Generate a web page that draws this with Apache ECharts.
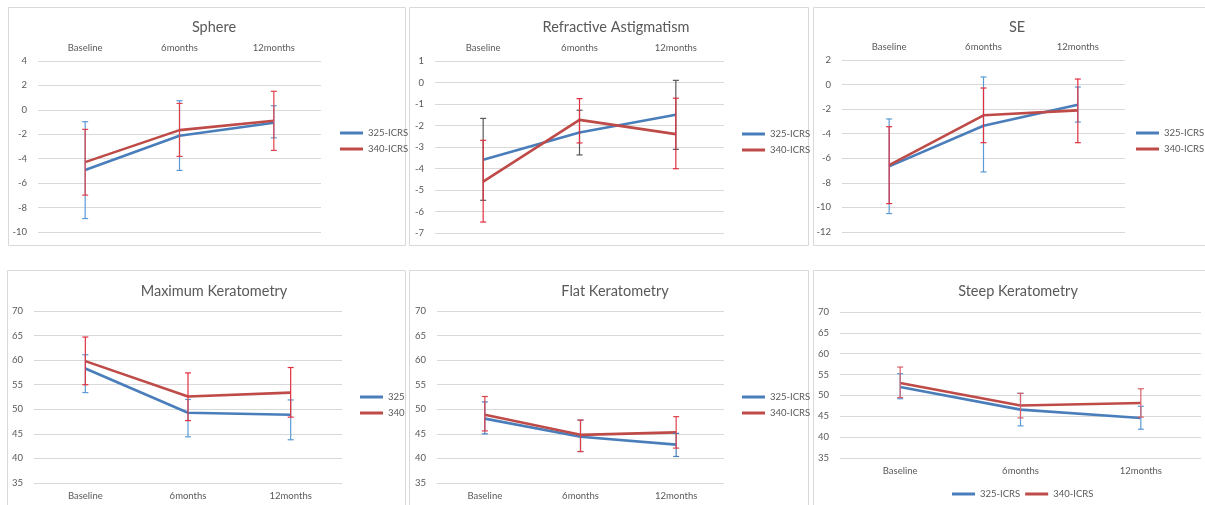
<!DOCTYPE html>
<html>
<head>
<meta charset="utf-8">
<script src="https://cdn.jsdelivr.net/npm/echarts@6/dist/echarts.min.js"></script>
<style>
html,body{margin:0;padding:0;background:#fff;}
#chart{width:1205px;height:505px;}
</style>
</head>
<body>
<div id="chart"></div>
<script>
// ---------- DATA ----------
const categories = ['Baseline', '6months', '12months'];

// Sphere
const sphere325 = [-4.93, -2.12, -1.05];
const sphere325Hi = [-0.97, 0.75, 0.34];
const sphere325Lo = [-8.9, -4.96, -2.29];
const sphere340 = [-4.28, -1.66, -0.89];
const sphere340Hi = [-1.6, 0.53, 1.52];
const sphere340Lo = [-6.98, -3.81, -3.32];

// Refractive Astigmatism
const astig325 = [-3.59, -2.33, -1.5];
const astig325Hi = [-1.67, -1.29, 0.1];
const astig325Lo = [-5.48, -3.37, -3.11];
const astig340 = [-4.61, -1.74, -2.4];
const astig340Hi = [-2.69, -0.75, -0.73];
const astig340Lo = [-6.49, -2.81, -4.01];

// SE
const se325 = [-6.66, -3.35, -1.64];
const se325Hi = [-2.8, 0.62, -0.2];
const se325Lo = [-10.5, -7.11, -3.05];
const se340 = [-6.55, -2.5, -2.1];
const se340Hi = [-3.43, -0.28, 0.45];
const se340Lo = [-9.69, -4.73, -4.73];

// Maximum Keratometry
const maxk325 = [58.3, 49.3, 48.9];
const maxk325Hi = [61.1, 52.0, 51.9];
const maxk325Lo = [53.4, 44.4, 43.8];
const maxk340 = [59.8, 52.6, 53.4];
const maxk340Hi = [64.7, 57.4, 58.5];
const maxk340Lo = [55.0, 47.7, 48.4];

// Flat Keratometry
const flatk325 = [48.1, 44.4, 42.8];
const flatk325Hi = [51.5, 47.8, 45.1];
const flatk325Lo = [45.0, 41.4, 40.4];
const flatk340 = [48.9, 44.8, 45.3];
const flatk340Hi = [52.6, 47.8, 48.5];
const flatk340Lo = [45.6, 41.4, 42.1];

// Steep Keratometry
const steepk325 = [52.0, 46.6, 44.6];
const steepk325Hi = [55.2, 50.5, 47.4];
const steepk325Lo = [49.2, 42.7, 41.9];
const steepk340 = [53.0, 47.6, 48.2];
const steepk340Hi = [56.8, 50.5, 51.6];
const steepk340Lo = [49.5, 44.6, 44.8];

// ---------- LAYOUT ----------
const FONT = 'Lato, "Open Sans", sans-serif';
const TXT = '#595959';
const BLUE = '#4a7ebb';
const RED = '#be4b48';

const panels = [
  { title: 'Sphere', tx: 209, ty: 15, frame: [8, 7, 397, 238],
    grid: { left: 38, top: 61, width: 283, height: 171 }, xpos: 'top',
    ymin: -10, ymax: 4, yint: 2,
    names: ['325-ICRS', '340-ICRS'],
    s: [[sphere325, sphere325Lo, sphere325Hi], [sphere340, sphere340Lo, sphere340Hi]],
    errColors: ['#5b9bd5', '#e0404a'],
    legend: { left: 335, top: 123, orient: 'vertical' } },
  { title: 'Refractive Astigmatism', tx: 611, ty: 15, frame: [409, 7, 399, 238],
    grid: { left: 435, top: 61, width: 289, height: 172 }, xpos: 'top',
    ymin: -7, ymax: 1, yint: 1,
    names: ['325-ICRS', '340-ICRS'],
    s: [[astig325, astig325Lo, astig325Hi], [astig340, astig340Lo, astig340Hi]],
    errColors: ['#595959', '#e0303f'],
    legend: { left: 737, top: 124, orient: 'vertical' } },
  { title: 'SE', tx: 1012, ty: 15, frame: [813, 7, 400, 238],
    grid: { left: 842, top: 60, width: 283, height: 172 }, xpos: 'top',
    ymin: -12, ymax: 2, yint: 2,
    names: ['325-ICRS', '340-ICRS'],
    s: [[se325, se325Lo, se325Hi], [se340, se340Lo, se340Hi]],
    errColors: ['#5b9bd5', '#e0303f'],
    legend: { left: 1131, top: 123, orient: 'vertical' } },
  { title: 'Maximum Keratometry', tx: 209, ty: 279, frame: [7, 270, 398, 245],
    grid: { left: 34, top: 311, width: 308, height: 172 }, xpos: 'bottom',
    ymin: 35, ymax: 70, yint: 5,
    names: ['325', '340'],
    s: [[maxk325, maxk325Lo, maxk325Hi], [maxk340, maxk340Lo, maxk340Hi]],
    errColors: ['#5b9bd5', '#e0303f'],
    legend: { left: 355, top: 387, orient: 'vertical' } },
  { title: 'Flat Keratometry', tx: 610, ty: 279, frame: [409, 270, 399, 245],
    grid: { left: 437, top: 311, width: 287, height: 172 }, xpos: 'bottom',
    ymin: 35, ymax: 70, yint: 5,
    names: ['325-ICRS', '340-ICRS'],
    s: [[flatk325, flatk325Lo, flatk325Hi], [flatk340, flatk340Lo, flatk340Hi]],
    errColors: ['#4a7ebb', '#e0404a'],
    legend: { left: 737, top: 387, orient: 'vertical' } },
  { title: 'Steep Keratometry', tx: 1013, ty: 279, frame: [813, 270, 400, 245],
    grid: { left: 840, top: 312, width: 361, height: 146 }, xpos: 'bottom',
    ymin: 35, ymax: 70, yint: 5,
    names: ['325-ICRS', '340-ICRS'],
    s: [[steepk325, steepk325Lo, steepk325Hi], [steepk340, steepk340Lo, steepk340Hi]],
    errColors: ['#5b9bd5', '#d9606a'],
    legend: { left: 947, top: 484, orient: 'horizontal' } }
];

const option = {
  backgroundColor: '#fff',
  animation: false,
  title: [], grid: [], xAxis: [], yAxis: [], series: [], legend: [],
  graphic: []
};

function errRender(color) {
  return function (params, api) {
    const x = api.value(0);
    const lo = api.coord([x, api.value(1)]);
    const hi = api.coord([x, api.value(2)]);
    const hw = 3;
    const st = { stroke: color, lineWidth: 1.2 };
    return {
      type: 'group',
      children: [
        { type: 'line', shape: { x1: hi[0], y1: hi[1], x2: lo[0], y2: lo[1] }, style: st },
        { type: 'line', shape: { x1: hi[0] - hw, y1: hi[1], x2: hi[0] + hw, y2: hi[1] }, style: st },
        { type: 'line', shape: { x1: lo[0] - hw, y1: lo[1], x2: lo[0] + hw, y2: lo[1] }, style: st }
      ]
    };
  };
}

panels.forEach((p, i) => {
  option.graphic.push({
    type: 'rect', silent: true, z: -10,
    shape: { x: p.frame[0] + 0.5, y: p.frame[1] + 0.5, width: p.frame[2], height: p.frame[3] },
    style: { fill: 'none', stroke: '#d9d9d9', lineWidth: 1 }
  });
  option.title.push({
    text: p.title, left: p.tx, top: p.ty, textAlign: 'center',
    textStyle: { fontFamily: FONT, fontSize: 14.5, fontWeight: 'normal', color: TXT }
  });
  option.grid.push(Object.assign({ containLabel: false }, p.grid));
  option.xAxis.push({
    type: 'category', gridIndex: i, data: categories, position: p.xpos,
    boundaryGap: true,
    axisLine: { show: false }, axisTick: { show: false },
    axisLabel: { color: TXT, fontFamily: FONT, fontSize: 9.5, margin: 8 },
    splitLine: { show: false }
  });
  option.yAxis.push({
    type: 'value', gridIndex: i, min: p.ymin, max: p.ymax, interval: p.yint,
    axisLine: { show: false }, axisTick: { show: false },
    axisLabel: { color: TXT, fontFamily: FONT, fontSize: 9.5, margin: 11 },
    splitLine: { lineStyle: { color: '#d9d9d9', width: 1 } }
  });
  const colors = [BLUE, RED];
  p.s.forEach((sd, k) => {
    option.series.push({
      type: 'line', name: p.names[k], xAxisIndex: i, yAxisIndex: i,
      data: sd[0], symbol: 'none', color: colors[k],
      lineStyle: { color: colors[k], width: 2.6 }, z: 2
    });
  });
  p.s.forEach((sd, k) => {
    option.series.push({
      type: 'custom', name: p.names[k] + ' err', xAxisIndex: i, yAxisIndex: i,
      renderItem: errRender(p.errColors[k]),
      data: categories.map((c, j) => [j, sd[1][j], sd[2][j]]),
      encode: { x: 0, y: [1, 2] }, z: 5, silent: true
    });
  });
  option.legend.push({
    data: p.names, left: p.legend.left, top: p.legend.top, orient: p.legend.orient,
    icon: 'rect', itemWidth: 23, itemHeight: 3,
    itemGap: p.legend.orient === 'vertical' ? 6 : 5,
    textStyle: { color: TXT, fontFamily: FONT, fontSize: 9.5 }
  });
});

const chart = echarts.init(document.getElementById('chart'), null, { renderer: 'canvas' });
chart.setOption(option);
</script>
</body>
</html>
